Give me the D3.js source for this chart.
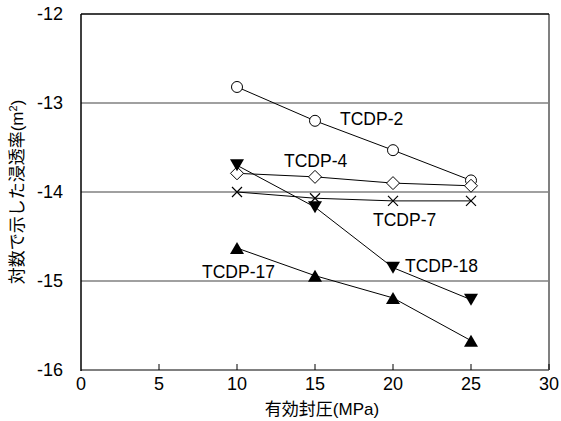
<!DOCTYPE html>
<html>
<head>
<meta charset="utf-8">
<script src="https://cdn.jsdelivr.net/npm/d3@7/dist/d3.min.js"></script>
<style>
body { margin: 0; background: #fff; }
text { font-family: "Liberation Sans", Arial, "Noto Sans CJK JP", sans-serif; }
</style>
</head>
<body>
<script>
// data
var pressure = [10, 15, 20, 25];
var tcdp2 = [-12.82, -13.2, -13.53, -13.87];
var tcdp4 = [-13.79, -13.83, -13.9, -13.93];
var tcdp7 = [-14.0, -14.07, -14.1, -14.1];
var tcdp18 = [-13.7, -14.17, -14.85, -15.21];
var tcdp17 = [-14.63, -14.94, -15.19, -15.67];
var xTicks = [0, 5, 10, 15, 20, 25, 30];
var yTicks = [-12, -13, -14, -15, -16];

var series = [
  {name: "TCDP-2", vals: tcdp2, sym: "circle", lx: 340, ly: 119},
  {name: "TCDP-4", vals: tcdp4, sym: "diamond", lx: 284, ly: 161},
  {name: "TCDP-7", vals: tcdp7, sym: "cross", lx: 373, ly: 220},
  {name: "TCDP-18", vals: tcdp18, sym: "down", lx: 405, ly: 266},
  {name: "TCDP-17", vals: tcdp17, sym: "up", lx: 202, ly: 272}
];

var svg = d3.select("body").append("svg")
  .attr("width", 561)
  .attr("height", 421);

var pL = 81, pR = 549, pT = 14, pB = 370;
var x = d3.scaleLinear().domain([0, 30]).range([pL, pR]);
var y = d3.scaleLinear().domain([-16, -12]).range([pB, pT]);

// grid lines
svg.selectAll(".grid").data([-13, -14, -15]).enter().append("line")
  .attr("x1", pL).attr("x2", pR)
  .attr("y1", function(d){ return y(d); }).attr("y2", function(d){ return y(d); })
  .style("stroke", "#808080").style("stroke-width", 1.5);

// frame
svg.append("line").attr("x1", pR).attr("x2", pR).attr("y1", pT).attr("y2", pB)
  .style("stroke", "#808080").style("stroke-width", 2);
svg.append("line").attr("x1", pL).attr("x2", pR).attr("y1", pB).attr("y2", pB)
  .style("stroke", "#808080").style("stroke-width", 2);
svg.append("line").attr("x1", pL).attr("x2", pR).attr("y1", pT).attr("y2", pT)
  .style("stroke", "#000").style("stroke-width", 1.5);
svg.append("line").attr("x1", pL).attr("x2", pL).attr("y1", pT).attr("y2", pB + 1)
  .style("stroke", "#000").style("stroke-width", 1.5);

// x ticks (inside)
svg.selectAll(".xt").data(xTicks.slice(1)).enter().append("line")
  .attr("x1", function(d){ return x(d); }).attr("x2", function(d){ return x(d); })
  .attr("y1", pB).attr("y2", pB - 6)
  .style("stroke", "#000").style("stroke-width", 1);

svg.selectAll(".xl").data(xTicks).enter().append("text")
  .attr("x", function(d){ return x(d); })
  .attr("y", pB + 20)
  .attr("text-anchor", "middle")
  .style("font-size", "18px")
  .text(function(d){ return d; });

svg.selectAll(".yl").data(yTicks).enter().append("text")
  .attr("x", 63)
  .attr("y", function(d){ return y(d); })
  .attr("dy", "0.35em")
  .attr("text-anchor", "end")
  .style("font-size", "18px")
  .text(function(d){ return d; });

// axis titles
svg.append("text")
  .attr("x", 322).attr("y", 415)
  .attr("text-anchor", "middle")
  .style("font-size", "17px")
  .text("有効封圧(MPa)");

var yt = svg.append("text")
  .attr("transform", "translate(23," + ((pT + pB) / 2) + ") rotate(-90)")
  .attr("text-anchor", "middle")
  .style("font-size", "17px");
yt.append("tspan").text("対数で示した浸透率(m");
yt.append("tspan").attr("baseline-shift", "super").style("font-size", "11px").text("2");
yt.append("tspan").text(")");

// series lines and markers
var line = d3.line()
  .x(function(d, i){ return x(pressure[i]); })
  .y(function(d){ return y(d); });

series.forEach(function(s){
  svg.append("path").datum(s.vals)
    .attr("d", line)
    .style("fill", "none").style("stroke", "#000").style("stroke-width", 1);

  var g = svg.append("g");
  s.vals.forEach(function(v, i){
    var cx = x(pressure[i]), cy = y(v);
    if (s.sym == "circle") {
      g.append("circle").attr("cx", cx).attr("cy", cy).attr("r", 5.5)
        .style("fill", "#fff").style("stroke", "#000").style("stroke-width", 1);
    } else if (s.sym == "diamond") {
      g.append("path").attr("d", "M" + cx + "," + (cy - 6.5) + "L" + (cx + 6.5) + "," + cy + "L" + cx + "," + (cy + 6.5) + "L" + (cx - 6.5) + "," + cy + "Z")
        .style("fill", "#fff").style("stroke", "#000").style("stroke-width", 1);
    } else if (s.sym == "cross") {
      g.append("path").attr("d", "M" + (cx - 5) + "," + (cy - 5) + "L" + (cx + 5) + "," + (cy + 5) + "M" + (cx + 5) + "," + (cy - 5) + "L" + (cx - 5) + "," + (cy + 5))
        .style("fill", "none").style("stroke", "#000").style("stroke-width", 1.2);
    } else if (s.sym == "down") {
      g.append("path").attr("d", "M" + (cx - 7) + "," + (cy - 6) + "L" + (cx + 7) + "," + (cy - 6) + "L" + cx + "," + (cy + 6) + "Z")
        .style("fill", "#000");
    } else {
      g.append("path").attr("d", "M" + (cx - 7) + "," + (cy + 6) + "L" + (cx + 7) + "," + (cy + 6) + "L" + cx + "," + (cy - 6) + "Z")
        .style("fill", "#000");
    }
  });

  svg.append("text")
    .attr("x", s.lx).attr("y", s.ly)
    .attr("dy", "0.35em")
    .style("font-size", "17.5px")
    .text(s.name);
});
</script>
</body>
</html>
